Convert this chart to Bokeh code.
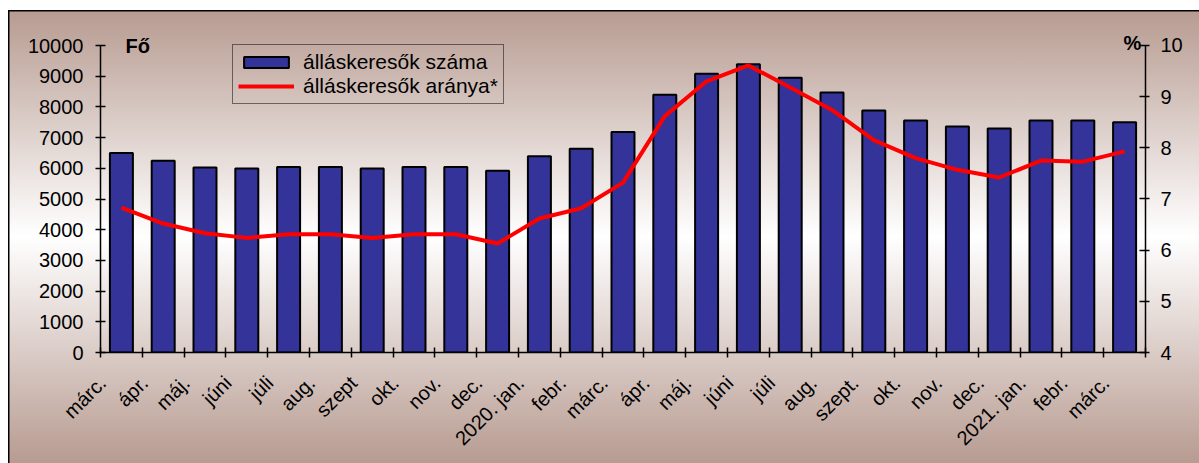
import math
from bokeh.plotting import figure
from bokeh.models import (Range1d, LinearAxis, FixedTicker, Legend, LegendItem,
                          Label, ColumnDataSource)
from bokeh.embed import file_html
from bokeh.resources import INLINE

months = ["márc.", "ápr.", "máj.", "júni", "júli", "aug.", "szept", "okt.",
          "nov.", "dec.", "2020. jan.", "febr.", "márc.", "ápr.", "máj.",
          "júni", "júli", "aug.", "szept.", "okt.", "nov.", "dec.",
          "2021. jan.", "febr.", "márc."]
jobseekers = [6500, 6250, 6030, 5990, 6040, 6040, 5990, 6040, 6040, 5920,
              6390, 6640, 7180, 8400, 9080, 9390, 8950, 8470, 7880, 7560,
              7360, 7300, 7560, 7560, 7500]
rate = [6.83, 6.52, 6.33, 6.24, 6.31, 6.31, 6.24, 6.31, 6.31, 6.13,
        6.62, 6.82, 7.32, 8.62, 9.30, 9.61, 9.18, 8.74, 8.15, 7.80,
        7.57, 7.42, 7.75, 7.73, 7.93]
left_ticks = list(range(0, 10001, 1000))
right_ticks = [4, 5, 6, 7, 8, 9, 10]

FONT = "Liberation Sans"
xs = list(range(1, len(months) + 1))
src = ColumnDataSource(dict(x=xs, n=jobseekers, r=rate))

# frame: 317 px tall; axes end 10 px below its top
p = figure(width=1191, height=453, output_backend="svg", toolbar_location=None,
           x_range=Range1d(0.5, len(months) + 0.5), y_range=Range1d(0, 10326),
           min_border_left=92, min_border_right=54, min_border_top=25,
           min_border_bottom=111, x_axis_type=None, y_axis_type=None)
p.margin = (10, 0, 0, 8)
p.border_fill_color = None
p.background_fill_color = None
p.outline_line_color = None
p.grid.visible = False
p.styles = {
    "background-image": "linear-gradient(to bottom, #b79b91 0%, #ffffff 50%, #b79b91 100%)",
    "box-shadow": "inset 1.5px 1.5px 0 0 #000000",
}
p.extra_y_ranges = {"pct": Range1d(4, 10.1954)}

bars = p.vbar(x="x", top="n", width=0.55, source=src, fill_color="#333399",
              line_color="#000000", line_width=2)
line = p.line(x="x", y="r", source=src, y_range_name="pct",
              line_color="#ff0000", line_width=4)

def style_axis(ax):
    ax.axis_line_color = "#000000"
    ax.axis_line_width = 1.5
    ax.major_tick_line_color = "#000000"
    ax.major_tick_line_width = 1.5
    ax.major_label_text_font = FONT
    ax.major_label_text_font_size = "20px"
    ax.major_label_text_color = "#000000"

label_pos = [x - 0.45 for x in xs]
xa = LinearAxis(ticker=FixedTicker(ticks=label_pos,
                                   minor_ticks=[i + 0.5 for i in range(len(months) + 1)]))
style_axis(xa)
xa.major_tick_line_color = None
xa.minor_tick_line_color = "#000000"
xa.minor_tick_line_width = 1.5
xa.minor_tick_in = 5
xa.minor_tick_out = 5
xa.major_label_overrides = {x: m for x, m in zip(label_pos, months)}
xa.major_label_orientation = math.pi / 4
xa.major_label_standoff = 21
p.add_layout(xa, "below")

ya = LinearAxis(ticker=FixedTicker(ticks=left_ticks), bounds=(0, 10000))
style_axis(ya)
ya.major_tick_in = 5
ya.major_tick_out = 5
ya.minor_tick_line_color = None
ya.major_label_standoff = 12
p.add_layout(ya, "left")

yr = LinearAxis(y_range_name="pct", ticker=FixedTicker(ticks=right_ticks), bounds=(4, 10))
style_axis(yr)
yr.major_tick_in = 6
yr.major_tick_out = 4
yr.minor_tick_line_color = None
yr.major_label_standoff = 11
p.add_layout(yr, "right")

legend = Legend(items=[LegendItem(label="álláskeresők száma", renderers=[bars]),
                       LegendItem(label="álláskeresők aránya*", renderers=[line])],
                location=(132, 248), orientation="vertical")
legend.label_text_font = FONT
legend.label_text_font_size = "21px"
legend.label_text_color = "#000000"
legend.label_text_line_height = 0.95
legend.label_height = 21
legend.glyph_height = 14
legend.glyph_width = 56
legend.label_standoff = 9
legend.padding = 5
legend.spacing = 0
legend.margin = 0
legend.border_line_color = "#000000"
legend.border_line_width = 1.5
legend.background_fill_alpha = 0
p.add_layout(legend, "center")

p.add_layout(Label(x=1.1, y=10000, text="Fő", text_font=FONT, text_font_size="20px",
                   text_font_style="bold", text_baseline="middle", text_align="left",
                   text_color="#000000"))
p.add_layout(Label(x=25.4, y=10080, text="%", text_font=FONT, text_font_size="20px",
                   text_font_style="bold", text_baseline="middle", text_align="right",
                   text_color="#000000"))

open("out.html", "w").write(file_html(p, INLINE))
